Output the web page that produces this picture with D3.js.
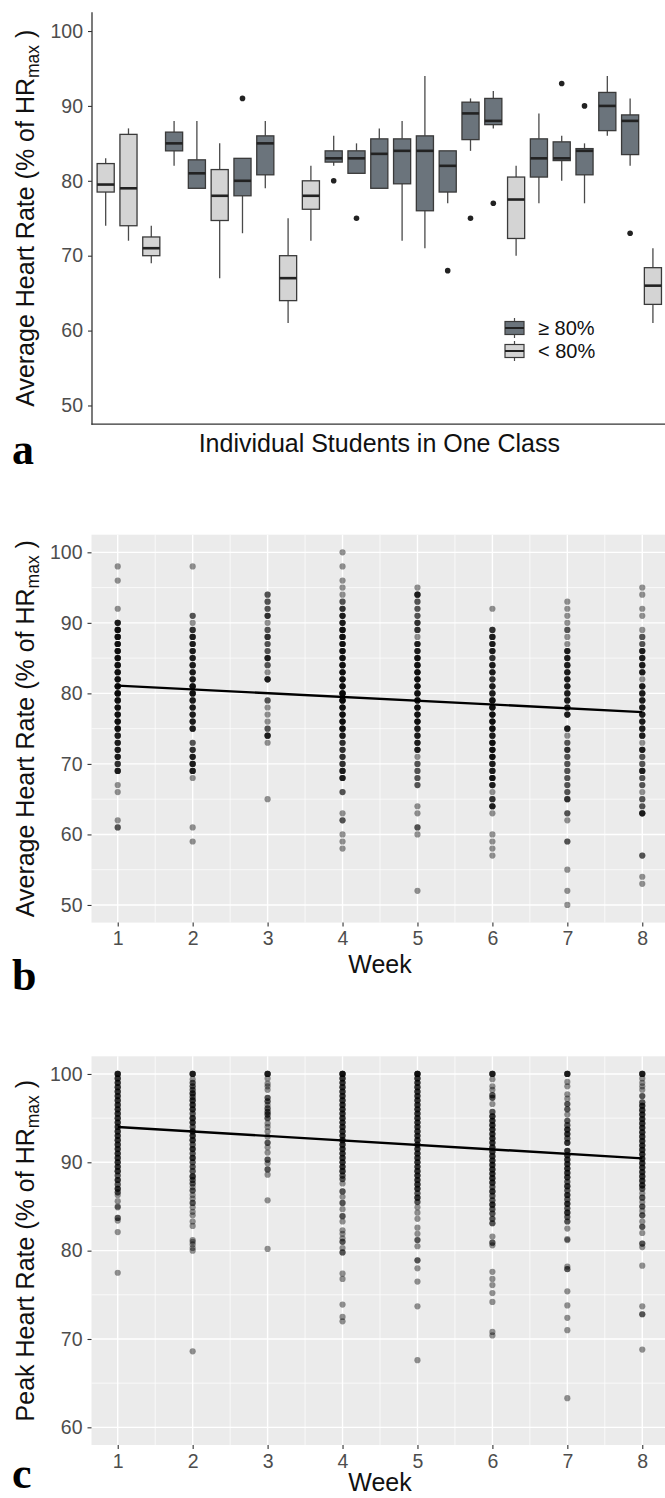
<!DOCTYPE html>
<html><head><meta charset="utf-8">
<script src="https://cdn.jsdelivr.net/npm/d3@7"></script>
<style>body{margin:0;background:#fff}svg{display:block}</style>
</head><body>
<svg id="chart" width="665" height="1498"></svg>
<script>
// ---------------- Panel a: boxplots per student ----------------
const students = ["S1","S2","S3","S4","S5","S6","S7","S8","S9","S10","S11","S12","S13","S14","S15","S16","S17","S18","S19","S20","S21","S22","S23","S24","S25"];
const groups   = ["lo","lo","lo","hi","hi","lo","hi","hi","lo","lo","hi","hi","hi","hi","hi","hi","hi","hi","lo","hi","hi","hi","hi","hi","lo"];
const whiskerLow  = [74,72,69,82,79,67,73,79,61,72,82,81,79,72,71,77,84,87,70,77,80,77,86,82,61];
const q1Values    = [78.5,74,70,84,79,74.7,78,80.8,64,76.2,82.5,81,79,79.6,76,78.5,85.5,87.5,72.3,80.5,82.7,80.8,86.7,83.5,63.5];
const medians     = [79.5,79,71,85,81,78,80,85,67,78,83,83,83.6,84,84,82,89,88,77.5,83,83,84,90,88,66];
const q3Values    = [82.3,86.2,72.5,86.5,82.8,81.5,83,86,70,80,84,84,85.6,85.6,86,84,90.5,91,80.5,85.6,85.2,84.3,91.8,88.8,68.4];
const whiskerHigh = [83,87,74,88,88,85,83,88,75,82,86,85,87,88,94,84,91,92,82,89,86,85,94,91,71];
const outliers    = [[],[],[],[],[],[],[91],[],[],[],[80],[75],[],[],[],[68],[75],[77],[],[],[93],[90],[],[73],[]];
const legendLabels = ["\u2265 80%","< 80%"];
const legendGroups = ["hi","lo"];
const aTicks = [50,60,70,80,90,100];

// ---------------- Panel b: average HR by week [value, count] ----------------
const weeks = [1,2,3,4,5,6,7,8];
const avgWeek1 = [[98,1],[96,1],[92,1],[90,4],[89,5],[88,5],[87,5],[86,5],[85,5],[84,5],[83,5],[82,5],[81,6],[80,6],[79,5],[78,5],[77,5],[76,5],[75,5],[74,4],[73,4],[72,4],[71,4],[70,3],[69,4],[67,1],[66,1],[62,1],[61,2]];
const avgWeek2 = [[98,1],[91,2],[90,1],[89,3],[88,4],[87,4],[86,4],[85,4],[84,4],[83,4],[82,4],[81,5],[80,5],[79,4],[78,4],[77,4],[76,4],[75,4],[73,2],[72,3],[71,4],[70,4],[69,4],[68,1],[61,1],[59,1]];
const avgWeek3 = [[94,2],[93,2],[92,2],[91,3],[90,1],[89,2],[88,3],[87,2],[86,2],[85,4],[84,2],[83,1],[82,4],[79,2],[78,1],[77,1],[76,1],[75,2],[74,4],[73,1],[65,1]];
const avgWeek4 = [[100,1],[98,1],[96,1],[95,1],[94,1],[93,2],[92,3],[91,4],[90,4],[89,5],[88,5],[87,5],[86,5],[85,5],[84,5],[83,5],[82,5],[81,5],[80,6],[79,6],[78,5],[77,5],[76,5],[75,5],[74,4],[73,3],[72,3],[71,3],[70,3],[69,4],[68,4],[66,2],[63,1],[62,2],[60,1],[59,1],[58,1]];
const avgWeek5 = [[95,1],[94,4],[93,2],[92,2],[91,2],[90,3],[89,3],[88,1],[87,4],[86,4],[85,5],[84,5],[83,5],[82,5],[81,5],[80,5],[79,5],[78,5],[77,5],[76,5],[75,4],[74,4],[73,4],[72,4],[71,1],[70,2],[69,2],[68,2],[67,2],[64,1],[63,1],[61,2],[60,1],[52,1]];
const avgWeek6 = [[92,1],[89,3],[88,4],[87,4],[86,4],[85,3],[84,4],[83,4],[82,3],[81,4],[80,4],[79,5],[78,5],[77,5],[76,5],[75,5],[74,4],[73,5],[72,5],[71,5],[70,4],[69,4],[68,5],[67,4],[66,1],[65,3],[64,4],[63,1],[60,1],[59,1],[58,1],[57,1]];
const avgWeek7 = [[93,1],[92,1],[91,1],[90,1],[89,2],[88,1],[87,1],[86,4],[85,4],[84,4],[83,4],[82,4],[81,4],[80,4],[79,4],[78,4],[77,4],[75,4],[74,1],[73,2],[72,3],[71,2],[70,2],[69,2],[68,2],[67,2],[66,2],[65,3],[63,2],[62,1],[59,2],[55,1],[52,1],[50,1]];
const avgWeek8 = [[95,1],[94,1],[92,1],[91,1],[89,1],[88,2],[87,2],[86,4],[85,4],[84,4],[83,4],[82,1],[81,4],[80,4],[79,4],[78,4],[77,4],[76,4],[75,4],[74,4],[73,1],[72,4],[71,2],[70,2],[69,4],[68,2],[67,2],[66,1],[65,2],[64,2],[63,4],[57,2],[54,1],[53,1]];
const avgFit = [81.1, 77.35];      // fitted line at week 1 and week 8
const bTicks = [50,60,70,80,90,100];

// ---------------- Panel c: peak HR by week [value, count] ----------------
const peakWeek1 = [[100,4],[99.5,3],[99,3],[98.5,3],[98,3],[97.5,3],[97,3],[96.5,3],[96,3],[95.5,3],[95,3],[94.5,3],[94,3],[93.5,3],[93,3],[92.5,3],[92,3],[91.5,3],[91,3],[90.5,3],[90,3],[89.5,3],[89,3],[88.5,2],[88,3],[87.5,2],[87,3],[86.6,2],[86.3,1],[85.6,1],[85.0,1],[84.9,1],[83.7,2],[83.4,1],[82.1,1],[77.5,1]];
const peakWeek2 = [[100,4],[99.4,1],[99,2],[98.6,2],[98.2,2],[97.8,3],[97.4,2],[97,3],[96.5,3],[96,3],[95.5,2],[95,3],[94.5,3],[94,2],[93.5,3],[93,3],[92.5,3],[92,2],[91.5,3],[91,2],[90.5,3],[90,2],[89.5,2],[89,2],[88.4,3],[88,2],[87.6,2],[87.2,1],[86.8,2],[86.3,1],[85.9,1],[85.4,2],[84.9,1],[84.4,1],[84.0,1],[83.3,1],[82.8,1],[81.2,1],[81.0,1],[80.7,1],[80.3,1],[80.0,1],[68.6,1]];
const peakWeek3 = [[100,4],[99.5,1],[98.9,1],[98.6,1],[98.2,1],[97.3,2],[96.9,2],[96.5,1],[96.1,2],[95.7,2],[95.4,2],[95.0,2],[94.4,1],[94.0,1],[93.5,1],[92.9,1],[92.2,2],[91.7,1],[91.1,1],[90.3,2],[89.9,1],[89.2,2],[88.6,1],[85.7,1],[80.2,1]];
const peakWeek4 = [[100,5],[99.5,3],[99,3],[98.5,3],[98,3],[97.5,3],[97,3],[96.5,3],[96,3],[95.5,3],[95,3],[94.5,3],[94,3],[93.5,3],[93,3],[92.5,3],[92,3],[91.5,3],[91,3],[90.5,3],[90,3],[89.5,3],[89,3],[88.5,2],[88.1,2],[87.6,1],[86.7,2],[86.1,1],[85.4,2],[84.7,1],[83.9,2],[83.3,1],[82.3,1],[81.9,1],[81.4,1],[81.0,2],[80.3,1],[79.8,2],[77.4,1],[76.8,1],[73.9,1],[72.5,1],[72.0,1]];
const peakWeek5 = [[100,5],[99.5,3],[99,3],[98.5,3],[98,3],[97.5,3],[97,3],[96.5,3],[96,3],[95.5,3],[95,3],[94.5,3],[94,3],[93.5,3],[93,3],[92.5,3],[92,3],[91.5,3],[91,3],[90.5,3],[90,3],[89.5,3],[89,3],[88.5,3],[88,3],[87.5,3],[87,3],[86.5,2],[86,3],[85.5,2],[84.9,1],[84.3,1],[83.6,1],[82.6,1],[81.9,1],[81.2,2],[80.5,1],[78.9,2],[78.0,1],[76.5,1],[73.7,1],[67.6,1]];
const peakWeek6 = [[100,4],[99.4,1],[98.6,1],[98.2,1],[97.6,2],[97.3,2],[96.6,1],[95.7,2],[95.2,3],[94.7,3],[94.2,3],[93.7,3],[93.2,3],[92.7,3],[92.2,3],[91.7,3],[91.2,3],[90.7,3],[90.2,3],[89.7,3],[89.2,3],[88.7,3],[88.2,3],[87.7,3],[87.2,2],[86.7,3],[86.2,2],[85.7,2],[85.2,3],[84.7,2],[84.2,2],[83.6,2],[83.1,2],[81.6,1],[80.9,2],[80.6,1],[77.6,1],[76.8,1],[76.1,1],[75.2,1],[74.2,1],[70.8,1],[70.4,1]];
const peakWeek7 = [[100,4],[99.1,1],[98.6,1],[97.7,1],[97.2,1],[96.6,2],[96.0,2],[95.4,1],[94.7,2],[94.2,2],[93.7,3],[93.2,3],[92.7,2],[92.2,3],[91.3,3],[90.8,3],[90.3,3],[89.8,3],[89.3,3],[88.8,3],[88.3,3],[87.8,2],[87.3,3],[86.8,2],[86.3,3],[85.8,2],[85.3,3],[84.8,2],[84.3,3],[83.8,2],[83.3,2],[82.5,1],[81.3,1],[81.2,1],[78.2,1],[77.9,2],[75.4,1],[73.8,1],[72.4,1],[71.0,1],[63.3,1]];
const peakWeek8 = [[100,4],[99.5,1],[99.0,1],[98.6,1],[98.2,1],[97.5,2],[96.8,2],[96.4,3],[95.9,3],[95.4,3],[94.9,3],[94.4,3],[93.9,3],[93.4,3],[92.9,3],[92.4,3],[91.9,3],[91.4,3],[90.9,3],[90.4,3],[89.9,3],[89.4,3],[88.9,3],[88.4,3],[87.9,3],[87.4,3],[87.0,2],[86.5,1],[86.0,2],[85.5,1],[85.0,2],[84.5,1],[84.0,2],[83.3,1],[82.7,2],[82.0,1],[80.8,2],[80.4,1],[78.3,1],[73.7,1],[72.8,2],[68.8,1]];
const peakFit = [94.0, 90.45];
const cTicks = [60,70,80,90,100];
const fitWeeks = [1,8];

// ---------------- drawing ----------------
const svg = d3.select("#chart");
const FONT = "'Liberation Sans', Arial, Helvetica, sans-serif";
const SERIF = "'Liberation Serif', 'Times New Roman', serif";
const fillOf = {hi:"#6b747c", lo:"#d4d4d4"};
const strokeBox = "#3a3a3a";

function yTitle(g, x, yMid, main) {
  const t = g.append("text").attr("transform", `translate(${x},${yMid}) rotate(-90)`)
    .attr("text-anchor","middle").attr("font-family",FONT).attr("font-size",25).attr("fill","#111");
  t.append("tspan").text(main + " (% of HR");
  t.append("tspan").attr("font-size",17.5).attr("dy",5).text("max");
  t.append("tspan").attr("dy",-5).text(" )");
}
function styleAxis(g) {
  g.select(".domain").remove();
  g.selectAll(".tick line").attr("stroke","#333").attr("stroke-width",1.1);
  g.selectAll(".tick text").attr("fill","#4d4d4d").attr("font-size",19.5).attr("font-family",FONT);
}

// ===== Panel a =====
(function(){
  const g = svg.append("g");
  const x = d3.scalePoint().domain(students).range([92, 666.6]).padding(0.6);
  const y = d3.scaleLinear().domain([47.5,102.5]).range([424.2, 12.3]);
  const bw = x.step()*0.75;
  const rows = students.map((s,i)=>({s, grp:groups[i], lw:whiskerLow[i], q1:q1Values[i], med:medians[i], q3:q3Values[i], uw:whiskerHigh[i], out:outliers[i]}));
  const b = g.selectAll("g.box").data(rows).join("g");
  b.append("line").attr("x1",d=>x(d.s)).attr("x2",d=>x(d.s)).attr("y1",d=>y(d.uw)).attr("y2",d=>y(d.q3)).attr("stroke","#4a4a4a").attr("stroke-width",1.3);
  b.append("line").attr("x1",d=>x(d.s)).attr("x2",d=>x(d.s)).attr("y1",d=>y(d.q1)).attr("y2",d=>y(d.lw)).attr("stroke","#4a4a4a").attr("stroke-width",1.3);
  b.append("rect").attr("x",d=>x(d.s)-bw/2).attr("width",bw).attr("y",d=>y(d.q3)).attr("height",d=>y(d.q1)-y(d.q3))
    .attr("fill",d=>fillOf[d.grp]).attr("stroke",strokeBox).attr("stroke-width",1.3);
  b.append("line").attr("x1",d=>x(d.s)-bw/2).attr("x2",d=>x(d.s)+bw/2).attr("y1",d=>y(d.med)).attr("y2",d=>y(d.med)).attr("stroke","#222").attr("stroke-width",2.6);
  b.selectAll("circle").data(d=>d.out.map(v=>({s:d.s,v}))).join("circle")
    .attr("cx",d=>x(d.s)).attr("cy",d=>y(d.v)).attr("r",2.8).attr("fill","#222");
  // axes
  const ay = g.append("g").attr("transform","translate(92,0)").call(d3.axisLeft(y).tickValues(aTicks).tickSize(4).tickPadding(5).tickSizeOuter(0));
  styleAxis(ay);
  g.append("line").attr("x1",92).attr("x2",92).attr("y1",12.3).attr("y2",424.8).attr("stroke","#333").attr("stroke-width",1.3);
  g.append("line").attr("x1",91.4).attr("x2",666).attr("y1",424.2).attr("y2",424.2).attr("stroke","#333").attr("stroke-width",1.3);
  yTitle(g, 33.5, (12.3+424.2)/2, "Average Heart Rate");
  g.append("text").attr("x",(92+666.6)/2).attr("y",452).attr("text-anchor","middle").attr("font-family",FONT).attr("font-size",25).attr("fill","#111").text("Individual Students in One Class");
  // legend
  const lg = g.append("g");
  const ly = d3.scalePoint().domain(legendGroups).range([328,351]);
  legendGroups.forEach((k,i)=>{
    const cy = ly(k);
    lg.append("line").attr("x1",514.5).attr("x2",514.5).attr("y1",cy-10).attr("y2",cy+10).attr("stroke","#4a4a4a").attr("stroke-width",1.2);
    lg.append("rect").attr("x",505).attr("y",cy-6.5).attr("width",19).attr("height",13).attr("fill",fillOf[k]).attr("stroke",strokeBox).attr("stroke-width",1.2);
    lg.append("line").attr("x1",505).attr("x2",524).attr("y1",cy).attr("y2",cy).attr("stroke","#222").attr("stroke-width",2);
    lg.append("text").attr("x",538).attr("y",cy).attr("dy","0.36em").attr("font-family",FONT).attr("font-size",20).attr("fill","#111").text(legendLabels[i]);
  });
  g.append("text").attr("x",12).attr("y",464).attr("font-family",SERIF).attr("font-weight","bold").attr("font-size",44).attr("fill","#000").text("a");
})();

// ===== Panels b and c =====
function scatterPanel(cfg){
  const g = svg.append("g");
  const left = 91.5, right = 668.5;
  const x = d3.scaleLinear().domain([0.65, 8.35]).range([left, right]);
  const y = d3.scaleLinear().domain(cfg.domain).range([cfg.bottom, cfg.top]);
  g.append("rect").attr("x",left).attr("y",cfg.top).attr("width",right-left).attr("height",cfg.bottom-cfg.top).attr("fill","#ebebeb");
  const minorsY = cfg.ticks.slice(0,-1).map((t,i)=>(t+cfg.ticks[i+1])/2);
  const minorsX = weeks.slice(0,-1).map(w=>w+0.5);
  g.selectAll("line.mny").data(minorsY).join("line").attr("x1",left).attr("x2",right).attr("y1",d=>y(d)).attr("y2",d=>y(d)).attr("stroke","#fff").attr("stroke-width",0.7);
  g.selectAll("line.mnx").data(minorsX).join("line").attr("x1",d=>x(d)).attr("x2",d=>x(d)).attr("y1",cfg.top).attr("y2",cfg.bottom).attr("stroke","#fff").attr("stroke-width",0.7);
  g.selectAll("line.mjy").data(cfg.ticks).join("line").attr("x1",left).attr("x2",right).attr("y1",d=>y(d)).attr("y2",d=>y(d)).attr("stroke","#fff").attr("stroke-width",1.4);
  g.selectAll("line.mjx").data(weeks).join("line").attr("x1",d=>x(d)).attr("x2",d=>x(d)).attr("y1",cfg.top).attr("y2",cfg.bottom).attr("stroke","#fff").attr("stroke-width",1.4);
  const pts = [];
  cfg.data.forEach((arr,wi)=>arr.forEach(([v,n])=>{ for(let k=0;k<n;k++) pts.push({w:weeks[wi], v}); }));
  g.selectAll("circle").data(pts).join("circle").attr("cx",d=>x(d.w)).attr("cy",d=>y(d.v)).attr("r",3.1).attr("fill","#000").attr("fill-opacity",0.42);
  const line = d3.line().x(d=>x(d[0])).y(d=>y(d[1]));
  g.append("path").attr("d", line(fitWeeks.map((w,i)=>[w,cfg.fit[i]]))).attr("stroke","#000").attr("stroke-width",2.4).attr("fill","none");
  const ay = g.append("g").attr("transform",`translate(${left},0)`).call(d3.axisLeft(y).tickValues(cfg.ticks).tickSize(4).tickPadding(5).tickSizeOuter(0));
  styleAxis(ay);
  const ax = g.append("g").attr("transform",`translate(0,${cfg.bottom})`).call(d3.axisBottom(x).tickValues(weeks).tickFormat(d3.format("d")).tickSize(4).tickPadding(5).tickSizeOuter(0));
  styleAxis(ax);
  yTitle(g, 33.5, (cfg.top+cfg.bottom)/2, cfg.title);
  g.append("text").attr("x",(left+right)/2).attr("y",cfg.xTitleY).attr("text-anchor","middle").attr("font-family",FONT).attr("font-size",25).attr("fill","#111").text("Week");
  g.append("text").attr("x",12).attr("y",cfg.labelY).attr("font-family",SERIF).attr("font-weight","bold").attr("font-size",44).attr("fill","#000").text(cfg.label);
}
scatterPanel({top:534.7, bottom:922.6, domain:[47.5,102.5], ticks:bTicks, data:[avgWeek1,avgWeek2,avgWeek3,avgWeek4,avgWeek5,avgWeek6,avgWeek7,avgWeek8], fit:avgFit, title:"Average Heart Rate", xTitleY:973, label:"b", labelY:990});
scatterPanel({top:1056.3, bottom:1445, domain:[58,102], ticks:cTicks, data:[peakWeek1,peakWeek2,peakWeek3,peakWeek4,peakWeek5,peakWeek6,peakWeek7,peakWeek8], fit:peakFit, title:"Peak Heart Rate", xTitleY:1491, label:"c", labelY:1488});
</script>
</body></html>
